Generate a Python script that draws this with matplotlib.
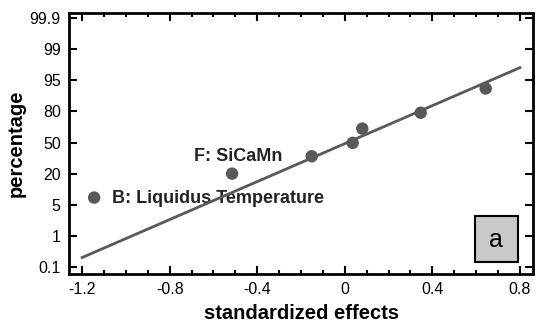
import matplotlib
matplotlib.use("Agg")
import matplotlib.pyplot as plt
from matplotlib.patches import Rectangle
from matplotlib.ticker import MultipleLocator

plt.rcParams['font.family'] = ['Liberation Sans', 'DejaVu Sans']

# effects (x) and their normal-probability position (index on the y scale)
effects = [-1.145, -0.515, -0.151, 0.036, 0.080, 0.347, 0.644]
prob_pos = [2.23, 3.00, 3.56, 3.99, 4.45, 4.96, 5.74]

# fitted line end points
line_x = [-1.2, 0.8]
line_y = [0.30, 6.41]

y_ticklabels = ["0.1", "1", "5", "20", "50", "80", "95", "99", "99.9"]
x_ticks = [-1.2, -0.8, -0.4, 0, 0.4, 0.8]
x_ticklabels = ["-1.2", "-0.8", "-0.4", "0", "0.4", "0.8"]

fig = plt.figure(figsize=(5.5, 3.34), dpi=100)
ax = fig.add_axes([69 / 550, 60 / 334, 464 / 550, 261 / 334])

gray = "#595959"
ax.plot(line_x, line_y, color=gray, lw=2, zorder=2)
ax.scatter(effects, prob_pos, s=80, color=gray, zorder=3, edgecolors="none")

ax.text(-1.064, 2.19, "B: Liquidus Temperature", fontsize=13, fontweight="bold",
        va="center", ha="left", color="#222222", zorder=1)
ax.text(-0.488, 3.55, "F: SiCaMn", fontsize=13, fontweight="bold",
        va="center", ha="center", color="#222222")

# label box "a"
ax.add_patch(Rectangle((0.594, 0.16), 0.197, 1.49, fc="#c8c8c8", ec="black",
                       lw=1.5, zorder=4))
ax.text(0.6925, 0.86, "a", fontsize=18, ha="center", va="center", zorder=5)

ax.set_xlim(-1.26, 0.86)
ax.set_ylim(-0.23, 8.17)
ax.set_xticks(x_ticks)
ax.set_xticklabels(x_ticklabels)
ax.xaxis.set_minor_locator(MultipleLocator(0.1))
ax.set_yticks(range(len(y_ticklabels)))
ax.set_yticklabels(y_ticklabels)

ax.tick_params(which="both", direction="in", top=True, right=True, width=1.5,
               labelsize=11.5, pad=6)
ax.tick_params(which="major", length=6)
ax.tick_params(which="minor", length=3)
for s in ax.spines.values():
    s.set_linewidth(2)

ax.set_xlabel("standardized effects", fontsize=14.5, fontweight="bold", labelpad=5)
ax.set_ylabel("percentage", fontsize=14.5, fontweight="bold", labelpad=3)

fig.savefig("out.png", dpi=100)
